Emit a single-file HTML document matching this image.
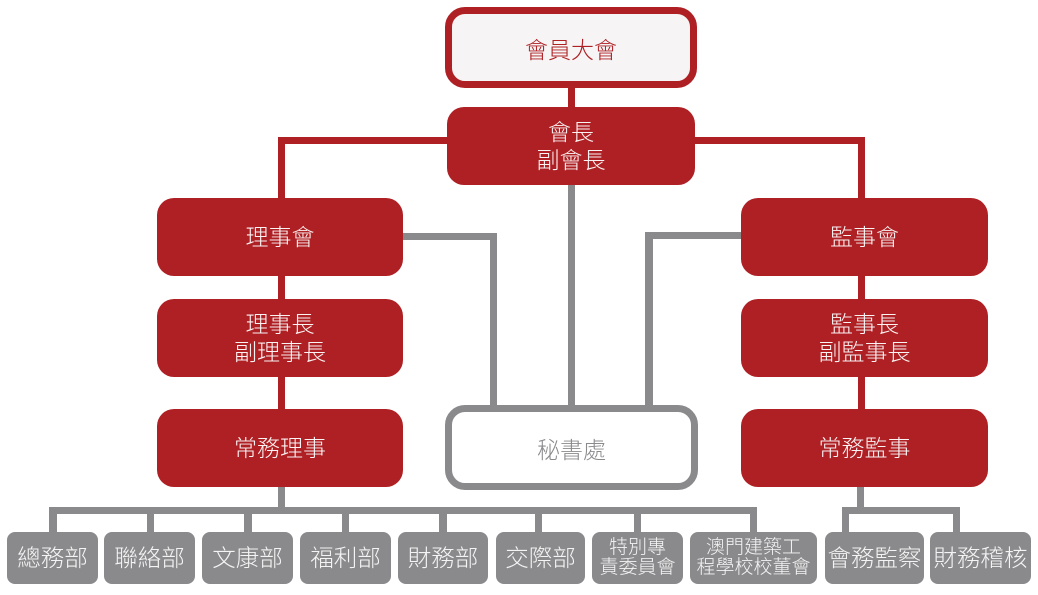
<!DOCTYPE html>
<html><head><meta charset="utf-8">
<style>
html,body{margin:0;padding:0;background:#fff;}
body{width:1038px;height:595px;position:relative;overflow:hidden;font-family:"Liberation Sans","Noto Sans CJK TC",sans-serif;}
.l{position:absolute;}
.r{background:#ae2024;}
.g{background:#8a8a8d;}
.b{position:absolute;box-sizing:border-box;display:flex;align-items:center;justify-content:center;text-align:center;font-weight:300;}
.red{background:#ae2024;color:#fbf3f3;border-radius:17px;font-size:23px;line-height:28px;}
.gr{background:#8a8a8d;color:#f4f4f4;border-radius:8px;font-size:23.5px;line-height:24px;}
.sm{font-size:19px;line-height:20px;}
</style></head><body>
<!-- red connectors -->
<div class="l r" style="left:568px;top:86px;width:7px;height:23px;"></div>
<div class="l r" style="left:278px;top:137px;width:587px;height:7px;"></div>
<div class="l r" style="left:278px;top:137px;width:7px;height:63px;"></div>
<div class="l r" style="left:858px;top:137px;width:7px;height:63px;"></div>
<div class="l r" style="left:278px;top:274px;width:7px;height:27px;"></div>
<div class="l r" style="left:858px;top:274px;width:7px;height:27px;"></div>
<div class="l r" style="left:278px;top:375px;width:7px;height:36px;"></div>
<div class="l r" style="left:858px;top:375px;width:7px;height:36px;"></div>
<!-- gray connectors -->
<div class="l g" style="left:568px;top:183px;width:7px;height:225px;"></div>
<div class="l g" style="left:401px;top:233px;width:96px;height:7px;"></div>
<div class="l g" style="left:490px;top:233px;width:7px;height:175px;"></div>
<div class="l g" style="left:645px;top:232px;width:98px;height:7px;"></div>
<div class="l g" style="left:645px;top:232px;width:8px;height:176px;"></div>
<div class="l g" style="left:278px;top:485px;width:7px;height:24px;"></div>
<div class="l g" style="left:49px;top:507px;width:708px;height:7px;"></div>
<div class="l g" style="left:49px;top:507px;width:8px;height:27px;"></div>
<div class="l g" style="left:147px;top:507px;width:7px;height:27px;"></div>
<div class="l g" style="left:244px;top:507px;width:8px;height:27px;"></div>
<div class="l g" style="left:342px;top:507px;width:7px;height:27px;"></div>
<div class="l g" style="left:439px;top:507px;width:8px;height:27px;"></div>
<div class="l g" style="left:535px;top:507px;width:7px;height:27px;"></div>
<div class="l g" style="left:634px;top:507px;width:7px;height:27px;"></div>
<div class="l g" style="left:750px;top:507px;width:7px;height:27px;"></div>
<div class="l g" style="left:857px;top:485px;width:7px;height:24px;"></div>
<div class="l g" style="left:842px;top:507px;width:118px;height:7px;"></div>
<div class="l g" style="left:842px;top:507px;width:7px;height:27px;"></div>
<div class="l g" style="left:953px;top:507px;width:7px;height:27px;"></div>

<!-- top box -->
<div class="b" style="left:445px;top:7px;width:252px;height:81px;border:7px solid #ae2024;border-radius:20px;background:#f6f4f5;color:#ae2024;font-size:23px;">會員大會</div>
<div class="b red" style="left:447px;top:107px;width:248px;height:78px;">會長<br>副會長</div>

<div class="b red" style="left:157px;top:198px;width:246px;height:78px;">理事會</div>
<div class="b red" style="left:157px;top:299px;width:246px;height:78px;">理事長<br>副理事長</div>
<div class="b red" style="left:157px;top:409px;width:246px;height:78px;">常務理事</div>

<div class="b red" style="left:741px;top:198px;width:247px;height:78px;">監事會</div>
<div class="b red" style="left:741px;top:299px;width:247px;height:78px;">監事長<br>副監事長</div>
<div class="b red" style="left:741px;top:409px;width:247px;height:78px;">常務監事</div>

<div class="b" style="left:445px;top:405px;width:253px;height:85px;border:7px solid #8a8a8d;border-radius:20px;background:#fff;color:#8a8a8d;font-size:23px;">秘書處</div>

<!-- bottom boxes -->
<div class="b gr" style="left:7px;top:532px;width:91px;height:52px;">總務部</div>
<div class="b gr" style="left:104px;top:532px;width:91px;height:52px;">聯絡部</div>
<div class="b gr" style="left:202px;top:532px;width:91px;height:52px;">文康部</div>
<div class="b gr" style="left:300px;top:532px;width:91px;height:52px;">福利部</div>
<div class="b gr" style="left:398px;top:532px;width:90px;height:52px;">財務部</div>
<div class="b gr" style="left:496px;top:532px;width:89px;height:52px;">交際部</div>
<div class="b gr sm" style="left:592px;top:532px;width:91px;height:52px;">特別專<br>責委員會</div>
<div class="b gr sm" style="left:690px;top:532px;width:127px;height:52px;">澳門建築工<br>程學校校董會</div>
<div class="b gr" style="left:825px;top:532px;width:99px;height:52px;">會務監察</div>
<div class="b gr" style="left:930px;top:532px;width:101px;height:52px;">財務稽核</div>
</body></html>
